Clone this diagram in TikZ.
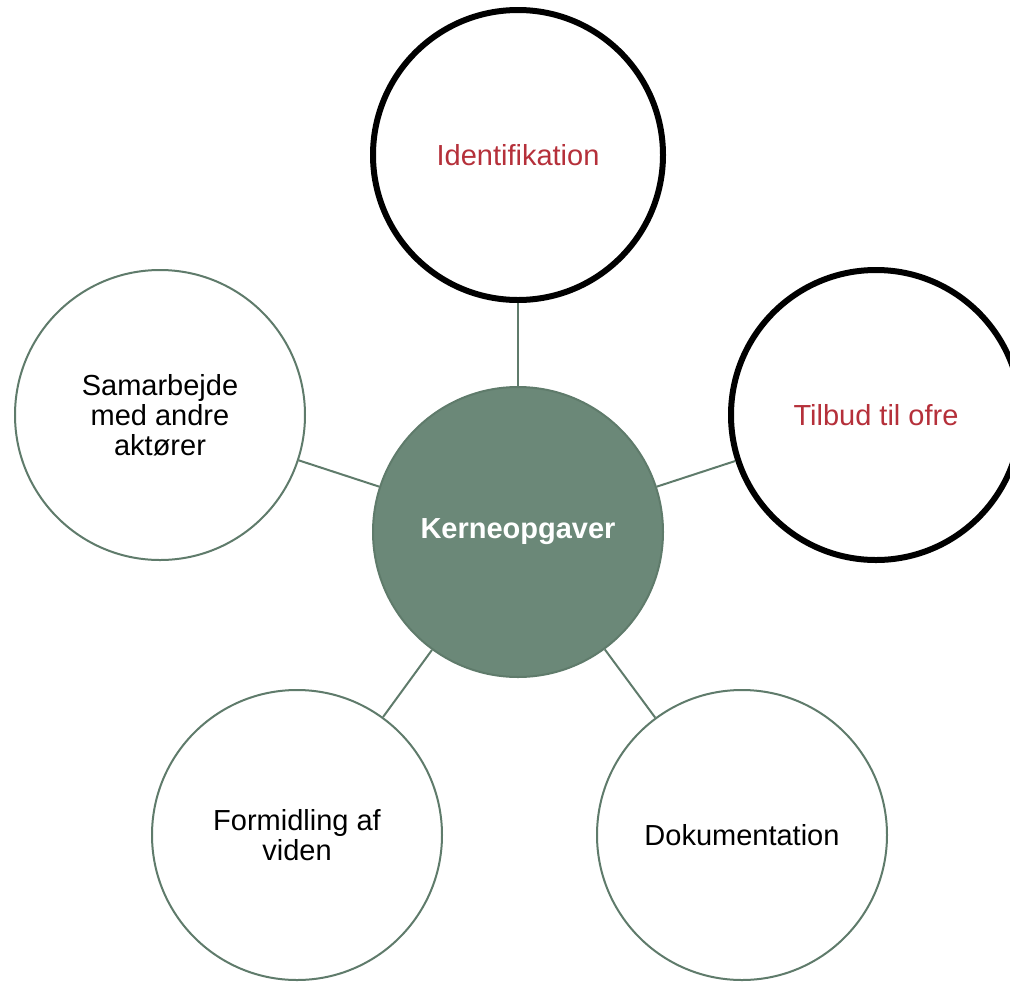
\documentclass[tikz,border=0pt]{standalone}
\usepackage{fontspec}
\setmainfont{Liberation Sans}
\usepackage{xcolor}
\usepackage{tikz}

\definecolor{kernegreen}{HTML}{6B8878}
\definecolor{kerneedge}{HTML}{5F7B6B}
\definecolor{kernered}{HTML}{B5303A}

\begin{document}
\begin{tikzpicture}[
  every node/.style={font=\fontsize{16.5}{17}\selectfont, align=center},
  bubble/.style={circle, draw=kerneedge, line width=0.04cm, fill=white, minimum size=5.8cm, inner sep=0pt},
  boldbubble/.style={circle, draw=black, line width=0.12cm, fill=white, minimum size=5.8cm, inner sep=0pt, text=kernered},
  hub/.style={circle, draw=kerneedge, line width=0.04cm, fill=kernegreen, minimum size=5.8cm, inner sep=0pt, text=white, font=\fontsize{16.5}{17}\selectfont\bfseries},
  spoke/.style={draw=kerneedge, line width=0.04cm}
]
\useasboundingbox (0, 0) rectangle (20.2, -19.62);

\node[hub] (kerne) at (10.36, -10.64) {Kerneopgaver};

\node[boldbubble] (ident) at (10.36, -3.10) {Identifikation};
\node[boldbubble] (tilbud) at (17.52, -8.30) {Tilbud til ofre};
\node[bubble] (samarb) at (3.20, -8.30) {Samarbejde\\med andre\\aktører};
\node[bubble] (formid) at (5.94, -16.70) {Formidling af\\viden};
\node[bubble] (dokum) at (14.84, -16.70) {Dokumentation};

\draw[spoke] (kerne) -- (ident);
\draw[spoke] (kerne) -- (tilbud);
\draw[spoke] (kerne) -- (samarb);
\draw[spoke] (kerne) -- (formid);
\draw[spoke] (kerne) -- (dokum);
\end{tikzpicture}
\end{document}
